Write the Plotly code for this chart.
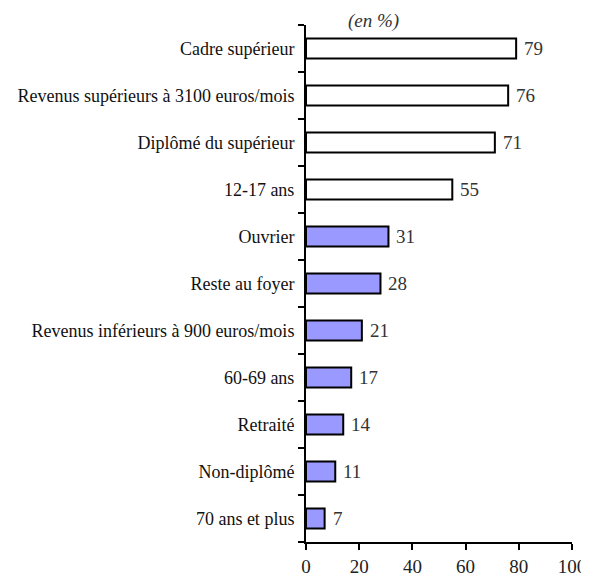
import plotly.graph_objects as go

categories = ["Cadre supérieur", "Revenus supérieurs à 3100 euros/mois", "Diplômé du supérieur",
              "12-17 ans", "Ouvrier", "Reste au foyer", "Revenus inférieurs à 900 euros/mois",
              "60-69 ans", "Retraité", "Non-diplômé", "70 ans et plus"]
values = [79, 76, 71, 55, 31, 28, 21, 17, 14, 11, 7]
fill_colors = ["white"] * 4 + ["#9999FF"] * 7
x_ticks = [0, 20, 40, 60, 80, 100]

font_family = "Liberation Serif, Times New Roman, serif"

fig = go.Figure()
fig.add_trace(go.Bar(
    y=categories, x=values, orientation="h",
    marker=dict(color=fill_colors, line=dict(color="black", width=2)),
    width=0.43, hoverinfo="skip",
))

for c, v in zip(categories, values):
    fig.add_annotation(x=v, y=c, text=str(v), showarrow=False, xanchor="left", xshift=6,
                       font=dict(family=font_family, size=19, color="#333333"))

fig.add_annotation(x=0.255, y=1.0, xref="paper", yref="paper", text="<i>(en %)</i>",
                   showarrow=False, xanchor="center", yanchor="bottom", yshift=-9,
                   font=dict(family=font_family, size=19, color="#333333"))

fig.update_layout(
    width=581, height=574,
    margin=dict(l=298, r=17, t=17, b=40, autoexpand=False),
    paper_bgcolor="white", plot_bgcolor="white",
    showlegend=False,
    font=dict(family=font_family, color="black"),
    xaxis=dict(range=[0, 100], tickvals=x_ticks, showgrid=False, zeroline=False,
               showline=True, linecolor="black", linewidth=2, automargin=False,
               ticks="outside", ticklen=6, tickwidth=2, tickcolor="black",
               tickfont=dict(family=font_family, size=19, color="#222222"), fixedrange=True),
    yaxis=dict(categoryorder="array", categoryarray=categories[::-1],
               range=[-0.5, 10.5], showgrid=False, zeroline=False, automargin=False,
               showline=True, linecolor="black", linewidth=2,
               ticks="outside", tickson="boundaries", ticklen=6, tickwidth=2, tickcolor="black",
               ticklabelstandoff=6,
               tickfont=dict(family=font_family, size=18, color="#111111"), fixedrange=True),
)

fig.write_html("out.html")
